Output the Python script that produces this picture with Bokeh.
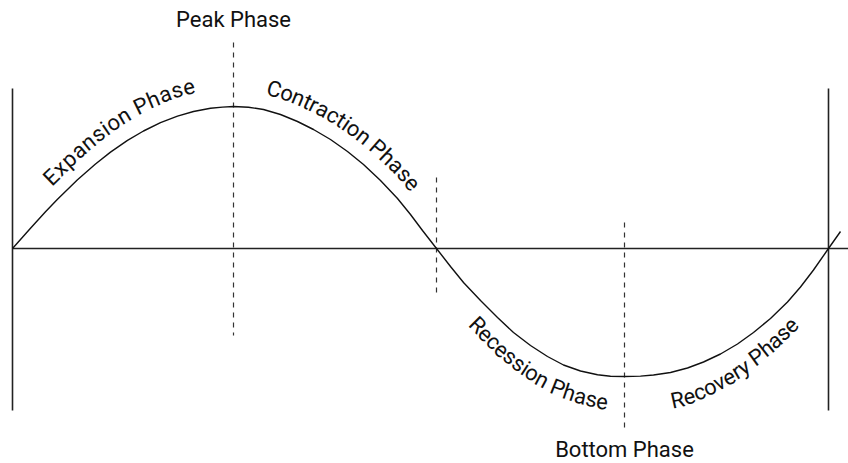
import numpy as np
from bokeh.plotting import figure
from bokeh.models import Range1d
from bokeh.core.properties import value
from bokeh.embed import file_html
from bokeh.resources import INLINE

# ---- data ----
# position along the business cycle and economic activity relative to trend
cycle_pos = [0, 18, 33, 45, 65, 83, 98, 115, 131, 148, 165, 181, 198, 210, 221,
             236, 251, 268, 285, 301, 318, 335, 351, 368, 385, 398, 410, 424,
             438, 451, 468, 485, 501, 518, 535, 551, 568, 585, 598, 612,
             628, 641, 658, 675, 691, 708, 725, 741, 758, 775, 788, 801, 816, 828]
activity = [0, 20.2, 36.7, 49.3, 68.7, 84.5, 96.4, 108.1, 117.5, 125.8, 132.4, 137.0, 140.2, 141.4, 142,
            141.3, 139, 134, 127, 119, 109, 97, 84, 68, 50, 34, 18, 0,
            -18, -34, -52, -69, -84, -97, -108, -116.5, -122.5, -126.3, -127.7, -128,
            -127.6, -126.5, -124, -119.5, -113.5, -105.5, -95.5, -84, -70, -53.5, -38.5, -21.5, 0, 17]

cycle_bounds = [0, 816]            # start and end of the full cycle
turning_pos = [221, 424, 612]      # peak, trend crossing, bottom
turning_names = ["Peak Phase", "", "Bottom Phase"]

phase_names = ["Expansion Phase", "Contraction Phase", "Recession Phase", "Recovery Phase"]

# ---- layout (not data) ----
FONT = "Roboto"
FS = 22
BL = 8            # baseline correction of the renderer
INK = "#111111"
frame_top, frame_bottom = 160, -162
turn_top = [206, 71, 26]
turn_bottom = [-87, -49, -179]
label_from = [48, 250, 474, 654]
label_to = [187, 387, 597, 769]
label_off0 = [12, 14.5, -27, -37]
label_off1 = [18, 14, -34, -26]

ADV = {'E': .568, 'x': .496, 'p': .560, 'a': .544, 'n': .551, 's': .517, 'i': .242, 'o': .557,
       ' ': .248, 'P': .631, 'h': .551, 'e': .529, 'C': .653, 't': .326, 'r': .338, 'c': .524,
       'R': .616, 'v': .483, 'y': .473}

p = figure(width=848, height=463, output_backend="svg", toolbar_location=None,
           x_range=Range1d(-12, 836), y_range=Range1d(-215, 248),
           x_axis_type=None, y_axis_type=None,
           min_border=0, min_border_left=0, min_border_right=0,
           min_border_top=0, min_border_bottom=0)
p.outline_line_color = None
p.grid.visible = False
p.background_fill_color = "white"
p.border_fill_color = "white"

# trend line
p.segment(x0=[cycle_pos[0]], y0=[0], x1=[836], y1=[0], line_color="#222222", line_width=1.5)
# cycle frame lines
p.segment(x0=cycle_bounds, y0=[frame_top] * 2, x1=cycle_bounds, y1=[frame_bottom] * 2,
          line_color="#222222", line_width=1.6)
# dashed turning-point lines
p.segment(x0=turning_pos, y0=turn_top, x1=turning_pos, y1=turn_bottom,
          line_color="#333333", line_width=1.2, line_dash="5 5")
# the cycle curve
p.line(cycle_pos, activity, line_color=INK, line_width=1.4)

# turning-point labels
p.text(x=[turning_pos[0]], y=[turn_top[0] + 15 + BL], text=[turning_names[0]],
       text_font=value(FONT), text_font_size=f"{FS}px", text_color=INK,
       text_align="center", text_baseline="alphabetic")
p.text(x=[turning_pos[2]], y=[turn_bottom[2] - 30 + BL], text=[turning_names[2]],
       text_font=value(FONT), text_font_size=f"{FS}px", text_color=INK,
       text_align="center", text_baseline="alphabetic")

# phase labels following the curve
xs = np.linspace(cycle_pos[0], cycle_pos[-1], 3000)
ys = np.interp(xs, cycle_pos, activity)
w = 41
ys_s = np.convolve(np.pad(ys, w // 2, mode="edge"), np.ones(w) / w, mode="valid")
dx = np.gradient(xs)
dy = np.gradient(ys_s)
L = np.hypot(dx, dy)
tx, ty = dx / L, dy / L
nx, ny = -ty, tx

for name, a, b, d0, d1 in zip(phase_names, label_from, label_to, label_off0, label_off1):
    i0 = int(np.argmin(np.abs(xs - a)))
    i1 = int(np.argmin(np.abs(xs - b)))
    frac = np.clip((np.arange(len(xs)) - i0) / max(i1 - i0, 1), 0, 1)
    d = d0 + (d1 - d0) * frac + BL
    ox = xs + d * nx
    oy = ys_s + d * ny
    s = np.concatenate([[0], np.cumsum(np.hypot(np.diff(ox), np.diff(oy)))])
    widths = np.array([ADV[c] for c in name], dtype=float)
    scale = (s[i1] - s[i0]) / widths.sum()
    cum = np.concatenate([[0], np.cumsum(widths)[:-1]])
    cx, cy, ang, ch = [], [], [], []
    for c, c0, wd in zip(name, cum, widths):
        if c == " ":
            continue
        sc = s[i0] + (c0 + wd / 2) * scale
        j = int(np.clip(np.searchsorted(s, sc), 0, len(s) - 1))
        cx.append(ox[j]); cy.append(oy[j])
        ang.append(float(np.arctan2(ty[j], tx[j])))
        ch.append(c)
    p.text(x=cx, y=cy, text=ch, angle=ang, text_font=value(FONT),
           text_font_size=f"{FS}px", text_color=INK,
           text_align="center", text_baseline="alphabetic")

open("out.html", "w").write(file_html(p, INLINE))
